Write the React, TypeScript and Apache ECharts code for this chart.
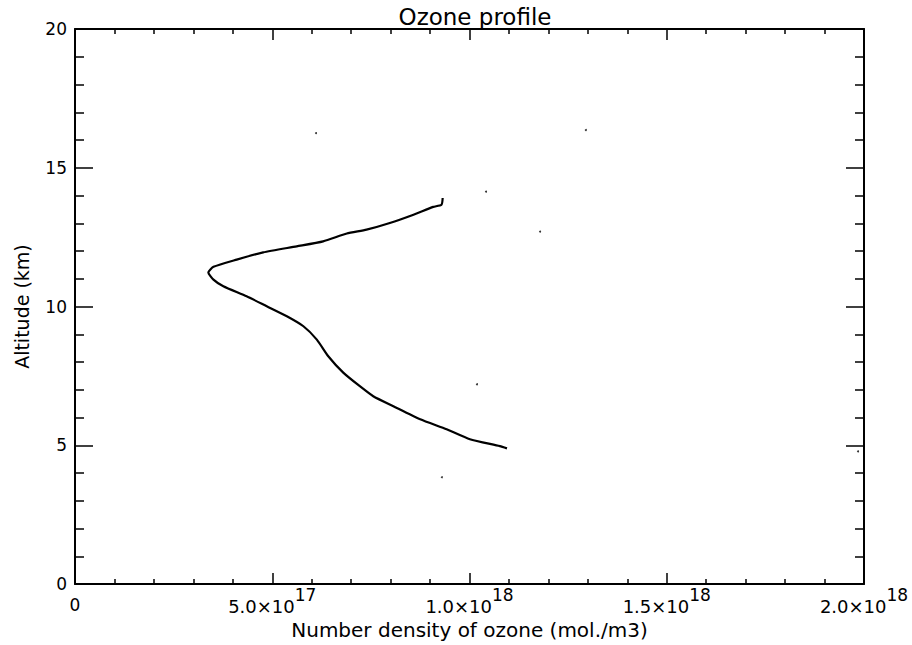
import React, { useEffect, useRef } from "react";
import * as echarts from "echarts";

// Ozone number density profile (mol./m3) vs altitude (km)
const DENSITY = [
  9.32e17, 9.29e17, 9.08e17, 8.58e17, 7.98e17, 7.39e17, 6.89e17, 6.29e17, 5.62e17,
  4.77e17, 4.10e17, 3.51e17, 3.38e17, 3.51e17, 3.76e17, 4.35e17, 4.86e17, 5.37e17,
  5.79e17, 6.13e17, 6.42e17, 6.80e17, 7.22e17, 7.56e17, 8.07e17, 8.75e17, 9.42e17,
  1.001e18, 1.077e18, 1.095e18,
];
const ALTITUDE = [
  13.91, 13.67, 13.59, 13.31, 13.01, 12.77, 12.63, 12.35, 12.17,
  11.95, 11.69, 11.43, 11.23, 10.97, 10.73, 10.37, 10.01, 9.65,
  9.29, 8.81, 8.21, 7.62, 7.13, 6.77, 6.41, 5.94, 5.58,
  5.22, 4.97, 4.89,
];

// Small specks of the scanned original
const SPECK_X = [6.11e17, 1.295e18, 1.042e18, 1.179e18, 1.019e18, 9.3e17, 1.985e18];
const SPECK_Y = [16.25, 16.36, 14.14, 12.7, 7.2, 3.85, 4.78];

const TITLE = "Ozone profile";
const X_NAME = "Number density of ozone (mol./m3)";
const Y_NAME = "Altitude (km)";
const X_MIN = 0;
const X_MAX = 2e18;
const X_STEP = 5e17;
const Y_MIN = 0;
const Y_MAX = 20;
const Y_STEP = 5;

const FONT = "DejaVu Sans";

function sciLabel(v: number): string {
  if (v === 0) return "{z|0}";
  const e = Math.floor(Math.log10(v) + 1e-9);
  const m = v / Math.pow(10, e);
  return `{b|${m.toFixed(1)}×10}{s|${e}}`;
}

export default function App() {
  const ref = useRef<HTMLDivElement>(null);

  useEffect(() => {
    if (!ref.current) return;
    const chart = echarts.init(ref.current, null, { renderer: "svg" });

    const tickStyle = { color: "#000", width: 1.5 };
    const axisLine = { show: true, onZero: false, lineStyle: { color: "#000", width: 2 } };

    const xBase = {
      type: "value" as const,
      min: X_MIN,
      max: X_MAX,
      interval: X_STEP,
      axisLine,
      axisTick: { show: true, inside: true, length: 11, lineStyle: tickStyle },
      minorTick: { show: true, splitNumber: 5, length: 5, lineStyle: tickStyle },
      splitLine: { show: false },
      minorSplitLine: { show: false },
    };
    const yBase = {
      type: "value" as const,
      min: Y_MIN,
      max: Y_MAX,
      interval: Y_STEP,
      axisLine,
      axisTick: { show: true, inside: true, length: 18, lineStyle: tickStyle },
      minorTick: { show: true, splitNumber: 5, length: 9, lineStyle: tickStyle },
      splitLine: { show: false },
      minorSplitLine: { show: false },
    };

    chart.setOption({
      animation: false,
      backgroundColor: "#fff",
      title: {
        text: TITLE,
        left: 470,
        textAlign: "center",
        top: 0,
        textStyle: { fontFamily: FONT, fontSize: 23, fontWeight: "normal", color: "#000" },
      },
      grid: { left: 75, right: 48, top: 29, bottom: 60, containLabel: false },
      xAxis: [
        {
          ...xBase,
          position: "bottom",
          name: X_NAME,
          nameLocation: "middle",
          nameGap: 32,
          nameTextStyle: { fontFamily: FONT, fontSize: 20, color: "#000" },
          axisLabel: {
            show: true,
            margin: 2,
            formatter: sciLabel,
            color: "#000",
            fontFamily: FONT,
            rich: {
              b: { fontFamily: FONT, fontSize: 18, color: "#000", verticalAlign: "bottom" },
              s: { fontFamily: FONT, fontSize: 17, color: "#000", verticalAlign: "top", padding: [0, 0, 12, 0] },
              z: { fontFamily: FONT, fontSize: 17, color: "#000", padding: [10, 0, 0, 0] },
            },
          },
        },
        { ...xBase, position: "top", axisLabel: { show: false } },
      ],
      yAxis: [
        {
          ...yBase,
          position: "left",
          name: Y_NAME,
          nameLocation: "middle",
          nameGap: 44,
          nameTextStyle: { fontFamily: FONT, fontSize: 19, color: "#000" },
          axisLabel: { show: true, margin: 8, color: "#000", fontFamily: FONT, fontSize: 17 },
        },
        { ...yBase, position: "right", axisLabel: { show: false } },
      ],
      series: [
        {
          type: "line",
          xAxisIndex: 0,
          yAxisIndex: 0,
          data: DENSITY.map((d, i) => [d, ALTITUDE[i]]),
          showSymbol: false,
          smooth: 0.2,
          lineStyle: { color: "#000", width: 2.2 },
        },
        {
          type: "scatter",
          xAxisIndex: 0,
          yAxisIndex: 0,
          data: SPECK_X.map((d, i) => [d, SPECK_Y[i]]),
          symbol: "circle",
          symbolSize: 2,
          itemStyle: { color: "#000" },
        },
      ],
    });

    return () => chart.dispose();
  }, []);

  return (
    <div
      ref={ref}
      style={{ position: "fixed", left: 0, top: 0, width: 912, height: 645, background: "#fff" }}
    />
  );
}
